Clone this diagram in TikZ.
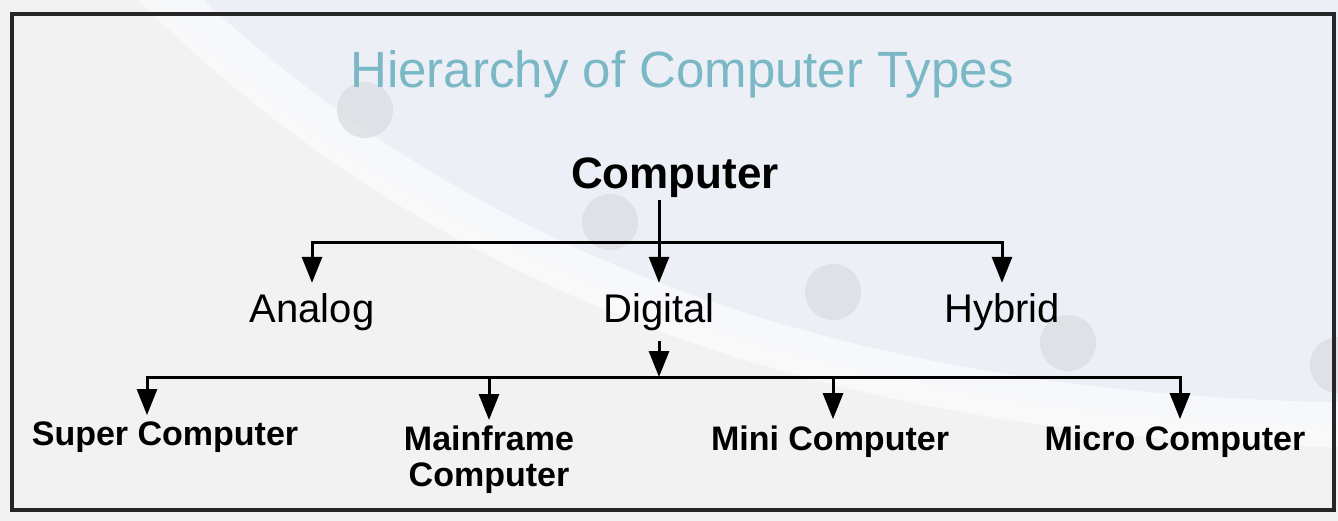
\documentclass[tikz,border=0pt]{standalone}
\usepackage{fontspec}
\setmainfont{Liberation Sans}
\usetikzlibrary{arrows.meta,positioning}

\definecolor{titleteal}{RGB}{122,184,198}
\definecolor{panelblue}{RGB}{237,239,246}
\definecolor{panelgray}{RGB}{242,242,243}
\definecolor{dotgray}{RGB}{221,222,226}

\tikzset{
  title/.style={font=\fontsize{51}{56}\selectfont, text=titleteal, inner sep=0pt, anchor=base},
  root/.style={font=\bfseries\fontsize{44}{50}\selectfont, inner xsep=0pt, inner ysep=2pt, anchor=base},
  kind/.style={font=\fontsize{40}{46}\selectfont, inner xsep=0pt, inner ysep=10pt, anchor=base},
  sub/.style={font=\bfseries\fontsize{34}{36}\selectfont, inner xsep=0pt, inner ysep=6pt, align=center},
  wire/.style={line width=3pt},
  arr/.style={wire, -{Triangle[length=26pt,width=20pt]}},
}

\begin{document}
\begin{tikzpicture}[x=1pt,y=-1pt]
  \useasboundingbox (0,0) rectangle (1338,521);
  % background
  \fill[panelblue] (0,0) rectangle (1338,521);
  \fill[panelgray] (0,0) -- (150,0) .. controls (450,280) and (850,420) .. (1338,425)
    -- (1338,521) -- (0,521) -- cycle;
  \draw[white, line width=45pt, opacity=0.6] (150,-20) .. controls (450,280) and (850,420) .. (1360,425);
  \foreach \cx/\cy in {365/110, 610/222, 833/292, 1068/343, 1338/365}
    \fill[dotgray, opacity=0.8] (\cx,\cy) circle (28);
  \draw[line width=3.5pt, black!85] (12,14) rectangle (1334,510);

  % labels
  \node[title] (head) at (682,88) {Hierarchy of Computer Types};
  \node[root] (computer) at (675,189) {Computer};

  \node[kind] (analog) at (312,322) {Analog};
  \node[kind] (digital) at (659,322) {Digital};
  \node[kind] (hybrid) at (1002,322) {Hybrid};

  \node[sub, anchor=base] (super) at (165,445) {Super Computer};
  \node[sub, anchor=north] (mainframe) at (489,420) {Mainframe\\Computer};
  \node[sub, anchor=base] (mini) at (830,450) {Mini Computer};
  \node[sub, anchor=base] (micro) at (1175,450) {Micro Computer};

  % connectors
  \coordinate (bus1) at (659,243);
  \coordinate (bus2) at (659,377);
  \draw[wire] (digital.north |- computer.south) -- (bus1);
  \draw[arr] (bus1) -- (digital.north);
  \draw[arr] (bus1) -| (analog.north);
  \draw[arr] (bus1) -| (hybrid.north);

  \draw[arr] (digital.south) -- (bus2);
  \draw[arr] (bus2) -| ([xshift=-18pt]super.north);
  \draw[arr] (bus2) -| (mainframe.north);
  \draw[arr] (bus2) -| ([xshift=3pt]mini.north);
  \draw[arr] (bus2) -| ([xshift=5pt]micro.north);
\end{tikzpicture}
\end{document}
